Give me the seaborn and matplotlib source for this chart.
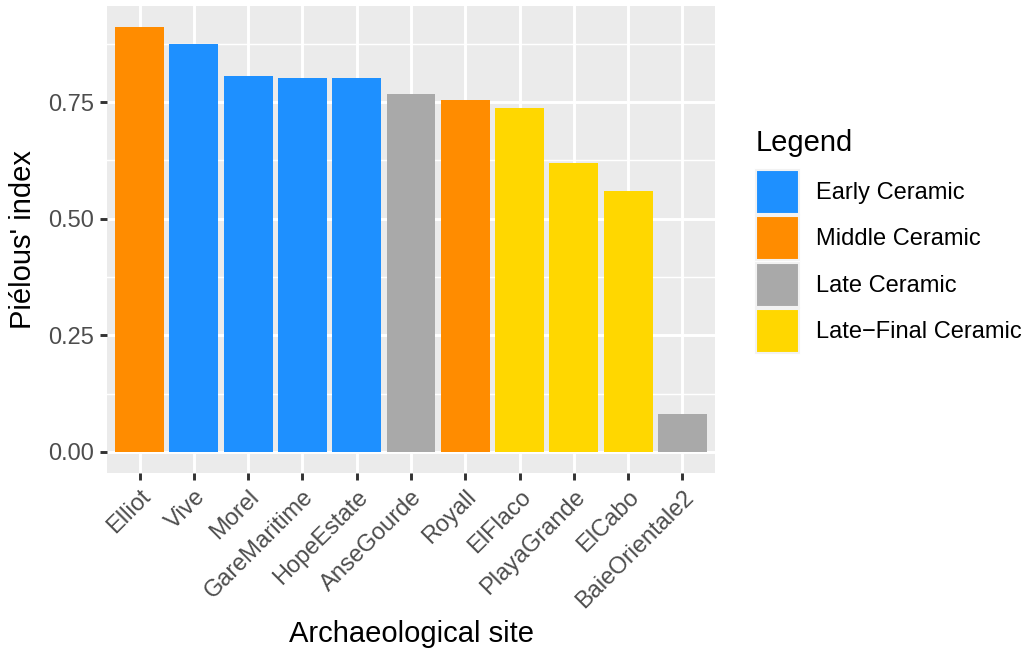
import pandas as pd
import matplotlib
matplotlib.use("Agg")
import matplotlib.pyplot as plt
import seaborn as sns
from matplotlib.ticker import FixedLocator, FormatStrFormatter

# Données
sites = ["Elliot", "Vive", "Morel", "GareMaritime", "HopeEstate", "AnseGourde",
         "Royall", "ElFlaco", "PlayaGrande", "ElCabo", "BaieOrientale2"]
pielou = [0.911, 0.875, 0.806, 0.801, 0.801, 0.767, 0.754, 0.737, 0.619, 0.559, 0.081]
periodes = ["Middle Ceramic", "Early Ceramic", "Early Ceramic", "Early Ceramic",
            "Early Ceramic", "Late Ceramic", "Middle Ceramic", "Late-Final Ceramic",
            "Late-Final Ceramic", "Late-Final Ceramic", "Late Ceramic"]
ordre_periodes = ["Early Ceramic", "Middle Ceramic", "Late Ceramic", "Late-Final Ceramic"]
couleurs = ["#1E90FF", "#FF8C00", "#A9A9A9", "#FFD700"]

df = pd.DataFrame({"site": sites, "indice": pielou, "periode": periodes})

plt.rcParams["font.family"] = ["Liberation Sans", "DejaVu Sans"]
petit = 17
grand = 21

fig = plt.figure(figsize=(10.27, 6.49), dpi=100)
ax = fig.add_axes([0.1042, 0.2712, 0.5920, 0.7196])

sns.barplot(data=df, x="site", y="indice", hue="periode", order=sites,
            hue_order=ordre_periodes, palette=couleurs, dodge=False,
            width=0.9, saturation=1, ax=ax, zorder=3)

# Thème façon ggplot
ax.set_facecolor("#EBEBEB")
for s in ax.spines.values():
    s.set_visible(False)
ax.set_axisbelow(True)
ax.set_xlim(-0.6, len(sites) - 0.4)
ymax = max(pielou)
ax.set_ylim(-0.05 * ymax, ymax * 1.05)
ax.yaxis.set_major_locator(FixedLocator([0, 0.25, 0.5, 0.75]))
ax.yaxis.set_minor_locator(FixedLocator([0.125, 0.375, 0.625, 0.875]))
ax.yaxis.set_major_formatter(FormatStrFormatter("%.2f"))
ax.grid(which="major", color="white", linewidth=2.1, zorder=0)
ax.grid(which="minor", axis="y", color="white", linewidth=1.05, zorder=0)
ax.tick_params(axis="both", which="major", length=5.3, width=2.1, color="#333333",
               labelcolor="#4D4D4D", labelsize=petit, pad=4)
ax.tick_params(axis="y", which="minor", length=0)

plt.setp(ax.get_xticklabels(), rotation=45, ha="right", rotation_mode="anchor")

ax.set_xlabel("Archaeological site", fontsize=grand, color="black", labelpad=6)
ax.set_ylabel("Piélous' index", fontsize=grand, color="black", labelpad=8)

# Légende
handles, _ = ax.get_legend_handles_labels()
ax.get_legend().remove()
for h in handles:
    h.set_edgecolor("#F2F2F2")
    h.set_linewidth(1.5)
etiquettes = [p.replace("-", "\u2212") for p in ordre_periodes]
leg = fig.legend(handles, etiquettes, title="Legend", loc="upper left",
                 bbox_to_anchor=(756 / 1027, 1 - 129 / 649), frameon=False,
                 fontsize=petit, title_fontsize=grand, handlelength=1.82,
                 handleheight=2.5, labelspacing=0.1, handletextpad=0.72,
                 borderpad=0, borderaxespad=0, alignment="left")
leg._legend_box.sep = 9  # espace titre / clés comme dans ggplot

fig.savefig("out.png", dpi=100)
